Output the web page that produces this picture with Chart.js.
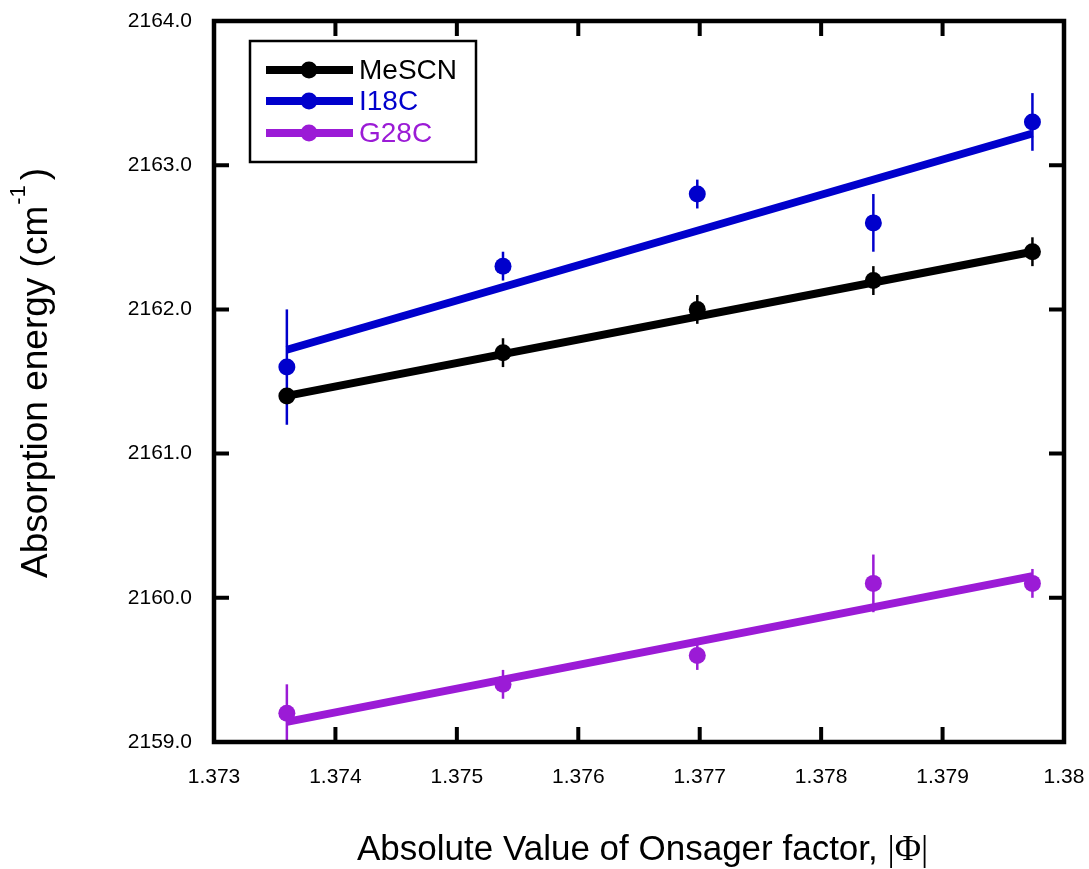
<!DOCTYPE html>
<html>
<head>
<meta charset="utf-8">
<title>Absorption energy vs Onsager factor</title>
<script src="https://cdn.jsdelivr.net/npm/chart.js@4.4.1/dist/chart.umd.min.js"></script>
<style>
  html, body { margin: 0; padding: 0; background: #fff; }
  canvas { display: block; }
</style>
</head>
<body>
<canvas id="chart" width="1089" height="869"></canvas>
<script>
// data
const onsager = [1.3736, 1.37538, 1.37698, 1.37843, 1.37974];

const mescn = [2161.4, 2161.7, 2162.0, 2162.2, 2162.4];
const mescnErr = [0, 0.1, 0.1, 0.1, 0.1];
const i18c = [2161.6, 2162.3, 2162.8, 2162.6, 2163.3];
const i18cErr = [0.4, 0.1, 0.1, 0.2, 0.2];
const g28c = [2159.2, 2159.4, 2159.6, 2160.1, 2160.1];
const g28cErr = [0.2, 0.1, 0.1, 0.2, 0.1];

// linear fit end points
const fitX = [1.3736, 1.37974];
const mescnFit = [2161.4, 2162.4];
const i18cFit = [2161.72, 2163.22];
const g28cFit = [2159.14, 2160.15];

const xTickLabels = ["1.373", "1.374", "1.375", "1.376", "1.377", "1.378", "1.379", "1.38"];
const yTickLabels = ["2159.0", "2160.0", "2161.0", "2162.0", "2163.0", "2164.0"];

const seriesNames = ["MeSCN", "I18C", "G28C"];
const colors = ["#000000", "#0000cc", "#9b1bd6"];

const SANS = '"Liberation Sans", Arial, Helvetica, sans-serif';
const SERIF = '"Liberation Serif", "Times New Roman", serif';

const pts = (ys) => onsager.map((x, i) => ({ x: x, y: ys[i] }));
const line = (ys) => fitX.map((x, i) => ({ x: x, y: ys[i] }));

const values = [mescn, i18c, g28c];
const errors = [mescnErr, i18cErr, g28cErr];
const fits = [mescnFit, i18cFit, g28cFit];

const datasets = [];
seriesNames.forEach((name, k) => {
  datasets.push({
    label: name + " fit",
    data: line(fits[k]),
    showLine: true,
    borderColor: colors[k],
    borderWidth: 8,
    pointRadius: 0,
    borderCapStyle: "butt",
    order: 2
  });
  datasets.push({
    label: name,
    data: pts(values[k]),
    errors: errors[k],
    showLine: false,
    backgroundColor: colors[k],
    borderColor: colors[k],
    borderWidth: 0,
    pointRadius: 8.5,
    order: 1
  });
});

// error bars, frame and inward ticks, titles, legend
const decor = {
  id: "decor",
  beforeDatasetsDraw(chart) {
    const { ctx, scales: { x, y } } = chart;
    ctx.save();
    chart.data.datasets.forEach((ds) => {
      if (!ds.errors) return;
      ctx.strokeStyle = ds.borderColor;
      ctx.lineWidth = 2.5;
      ds.data.forEach((p, i) => {
        const e = ds.errors[i];
        if (!e) return;
        const px = x.getPixelForValue(p.x);
        ctx.beginPath();
        ctx.moveTo(px, y.getPixelForValue(p.y - e));
        ctx.lineTo(px, y.getPixelForValue(p.y + e));
        ctx.stroke();
      });
    });
    ctx.restore();
  },
  afterDraw(chart) {
    const { ctx, chartArea: a, scales: { x, y } } = chart;
    ctx.save();
    ctx.strokeStyle = "#000";
    ctx.lineCap = "butt";

    // inward ticks on all four sides
    const tl = 15;
    ctx.lineWidth = 4;
    x.ticks.forEach((t) => {
      const px = x.getPixelForValue(t.value);
      ctx.beginPath();
      ctx.moveTo(px, a.bottom); ctx.lineTo(px, a.bottom - tl);
      ctx.moveTo(px, a.top); ctx.lineTo(px, a.top + tl);
      ctx.stroke();
    });
    y.ticks.forEach((t) => {
      const py = y.getPixelForValue(t.value);
      ctx.beginPath();
      ctx.moveTo(a.left, py); ctx.lineTo(a.left + tl, py);
      ctx.moveTo(a.right, py); ctx.lineTo(a.right - tl, py);
      ctx.stroke();
    });

    // frame
    ctx.lineWidth = 4.5;
    ctx.strokeRect(a.left, a.top, a.right - a.left, a.bottom - a.top);

    // x title
    ctx.fillStyle = "#000";
    ctx.textBaseline = "alphabetic";
    ctx.textAlign = "left";
    const xt = "Absolute Value of Onsager factor, ";
    ctx.font = "35px " + SANS;
    const w1 = ctx.measureText(xt).width;
    ctx.fillText(xt, 357, 860);
    ctx.font = "36px " + SERIF;
    ctx.fillText("|\u03A6|", 357 + w1, 860);

    // y title with superscript
    ctx.translate(47, 578);
    ctx.rotate(-Math.PI / 2);
    const yt = "Absorption energy (cm";
    ctx.font = "37px " + SANS;
    const m1 = ctx.measureText(yt).width;
    ctx.fillText(yt, 0, 0);
    ctx.font = "22px " + SANS;
    const m2 = ctx.measureText("-1").width;
    ctx.fillText("-1", m1 + 1, -22);
    ctx.font = "37px " + SANS;
    ctx.fillText(")", m1 + m2 + 6, 0);
    ctx.restore();

    // legend
    ctx.save();
    const lx = 250, ly = 41, lw = 226, lh = 121;
    ctx.fillStyle = "#fff";
    ctx.fillRect(lx, ly, lw, lh);
    ctx.strokeStyle = "#000";
    ctx.lineWidth = 2.5;
    ctx.strokeRect(lx, ly, lw, lh);
    const rows = [70, 101, 133];
    seriesNames.forEach((name, k) => {
      ctx.strokeStyle = colors[k];
      ctx.fillStyle = colors[k];
      ctx.lineWidth = 8;
      ctx.beginPath();
      ctx.moveTo(266, rows[k]); ctx.lineTo(353, rows[k]);
      ctx.stroke();
      ctx.beginPath();
      ctx.arc(309, rows[k], 8.5, 0, Math.PI * 2);
      ctx.fill();
      ctx.font = "28px " + SANS;
      ctx.textBaseline = "middle";
      ctx.fillText(name, 359, rows[k] + 1);
    });
    ctx.restore();
  }
};

new Chart(document.getElementById("chart"), {
  type: "scatter",
  data: { datasets: datasets },
  options: {
    responsive: false,
    animation: false,
    layout: { padding: { left: 0, top: 21, right: 25, bottom: 0 } },
    plugins: {
      legend: { display: false },
      tooltip: { enabled: false }
    },
    scales: {
      x: {
        type: "linear",
        min: 1.373,
        max: 1.38,
        afterFit: (s) => { s.height = 127; s.paddingLeft = 0; s.paddingRight = 0; },
        grid: { display: false, drawTicks: false },
        border: { display: false },
        ticks: {
          stepSize: 0.001,
          padding: 23,
          color: "#000",
          font: { family: SANS, size: 21 },
          maxRotation: 0,
          autoSkip: false,
          callback: (v, i) => xTickLabels[i]
        }
      },
      y: {
        type: "linear",
        min: 2159,
        max: 2164,
        afterFit: (s) => { s.width = 214; s.paddingTop = 0; s.paddingBottom = 0; },
        grid: { display: false, drawTicks: false },
        border: { display: false },
        ticks: {
          stepSize: 1,
          padding: 22,
          color: "#000",
          font: { family: SANS, size: 21 },
          callback: (v, i) => yTickLabels[i]
        }
      }
    }
  },
  plugins: [decor]
});
</script>
</body>
</html>
